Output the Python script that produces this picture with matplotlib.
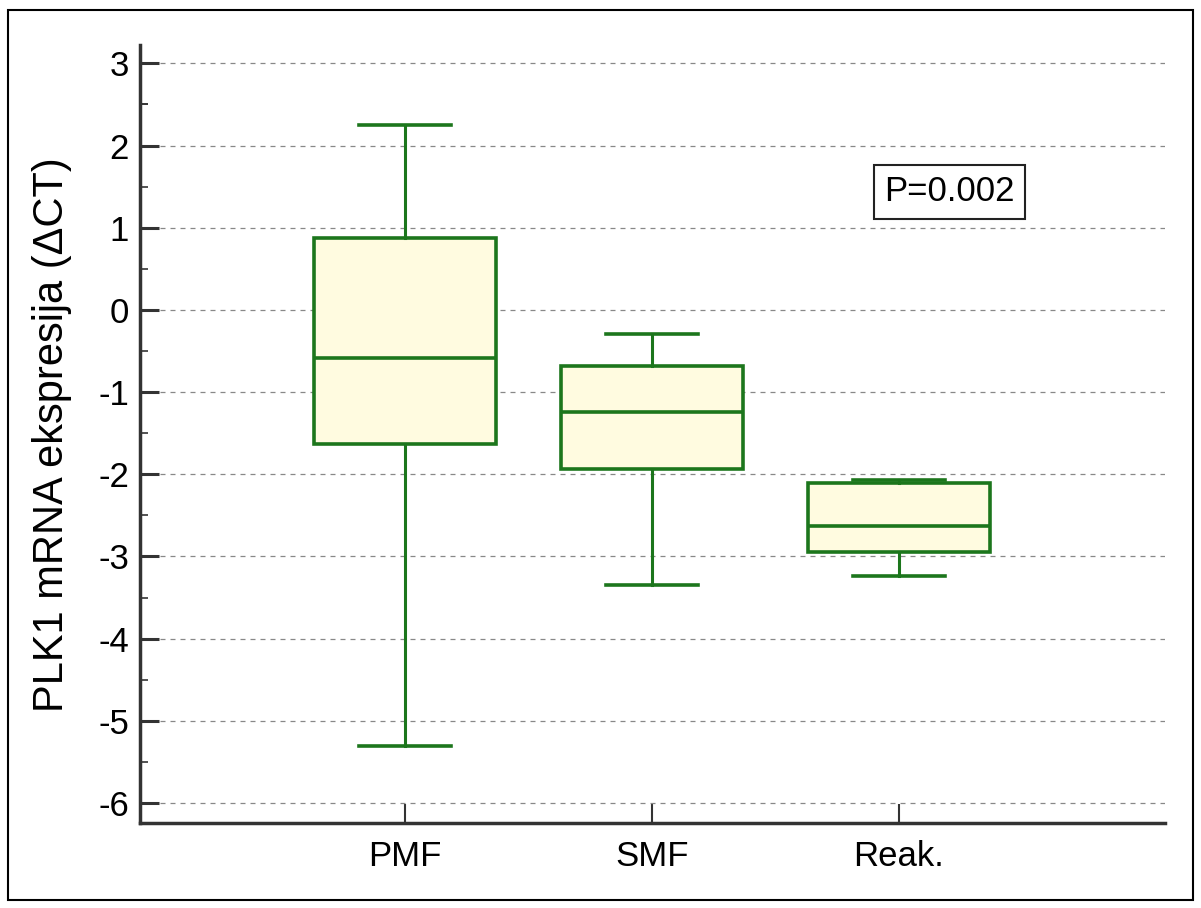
import matplotlib
matplotlib.use("Agg")
import matplotlib.pyplot as plt
from matplotlib.patches import Rectangle

# Box plot values (Delta CT)
groups = ["PMF", "SMF", "Reak."]
whisker_high = [2.25, -0.29, -2.07]
q3 = [0.88, -0.68, -2.10]
median = [-0.58, -1.24, -2.63]
q1 = [-1.63, -1.93, -2.94]
whisker_low = [-5.30, -3.35, -3.24]
y_ticks = [3, 2, 1, 0, -1, -2, -3, -4, -5, -6]
p_text = "P=0.002"

plt.rcParams['font.family'] = ['Liberation Sans', 'DejaVu Sans']

green = '#1c761c'
fig = plt.figure(figsize=(12.01, 9.08), dpi=100)
ax = fig.add_axes([0.1166, 0.0936, 0.8534, 0.8564])

stats = []
for i, g in enumerate(groups):
    stats.append({'label': g, 'med': median[i], 'q1': q1[i], 'q3': q3[i],
                  'whislo': whisker_low[i], 'whishi': whisker_high[i], 'fliers': []})

positions = [1, 2, 3]
bp = ax.bxp(stats, positions=positions, widths=0.74, capwidths=0.37,
            patch_artist=True, showfliers=False,
            boxprops=dict(facecolor='#fffbe0', edgecolor=green, linewidth=2.6),
            medianprops=dict(color=green, linewidth=2.6),
            whiskerprops=dict(color=green, linewidth=2.2),
            capprops=dict(color=green, linewidth=2.6))

# dashed horizontal grid
ax.set_axisbelow(True)
ax.yaxis.grid(True, linestyle=(0, (4, 4)), color='#888888', linewidth=0.9)

ax.set_ylim(-6.243, 3.219)
ax.set_xlim(-0.073, 4.077)
ax.set_yticks(y_ticks)
ax.set_yticklabels([str(t) for t in y_ticks])
ax.set_yticks([t + 0.5 for t in y_ticks[1:]] + [2.5], minor=True)
ax.set_xticks(positions)
ax.set_xticklabels(groups)

ax.spines['top'].set_visible(False)
ax.spines['right'].set_visible(False)
for s in ['left', 'bottom']:
    ax.spines[s].set_linewidth(2.5)
    ax.spines[s].set_color('#333333')

ax.tick_params(axis='y', which='major', direction='in', length=14, width=2.2,
               color='#333333', labelsize=25, pad=8)
ax.tick_params(axis='y', which='minor', direction='in', length=6, width=1.2,
               color='#333333')
ax.tick_params(axis='x', direction='in', length=14, width=1.5,
               color='#333333', labelsize=25, pad=12)

ax.set_ylabel("PLK1 mRNA ekspresija (\u0394CT)", fontsize=30, labelpad=19)

ax.text(0.7897, 0.8115, p_text, transform=ax.transAxes, fontsize=25,
        ha='center', va='center',
        bbox=dict(boxstyle='square,pad=0.3', facecolor='white',
                  edgecolor='#222222', linewidth=1.5))

# outer frame around the whole picture
fig.patches.append(Rectangle((0.0067, 0.0088), 0.9867, 0.9802,
                             transform=fig.transFigure, fill=False,
                             edgecolor='black', linewidth=1.5))

fig.savefig("out.png", dpi=100)
